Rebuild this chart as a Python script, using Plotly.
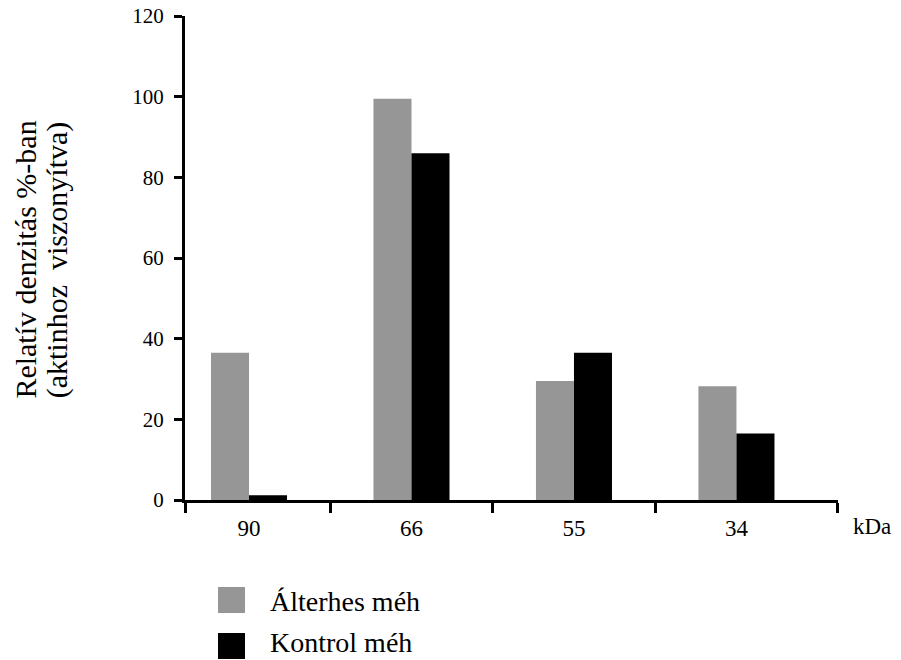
import plotly.graph_objects as go

categories = ["90", "66", "55", "34"]
series_names = ["Álterhes méh", "Kontrol méh"]
alterhes = [36.5, 99.5, 29.5, 28.2]
kontrol = [1.2, 86.0, 36.5, 16.5]
colors = ["#969696", "#000000"]
y_ticks = [0, 20, 40, 60, 80, 100, 120]
y_title_lines = ["Relatív denzitás %-ban", "(aktinhoz\u00a0 viszonyítva)"]
x_unit = "kDa"

xpos = list(range(len(categories)))
xr = [-0.394, 3.625]
boundaries = [xr[0] + 0.001, 0.5, 1.5, 2.5, xr[1] - 0.001]

SERIF = "Liberation Serif"

fig = go.Figure()
for name, vals, col in zip(series_names, [alterhes, kontrol], colors):
    fig.add_trace(go.Bar(x=xpos, y=vals, name=name, marker=dict(color=col, line=dict(width=0)),
                         showlegend=False))

fig.update_layout(
    width=893, height=652,
    margin=dict(l=177, r=63, t=8, b=160, autoexpand=False),
    paper_bgcolor="white", plot_bgcolor="white",
    barmode="group", bargap=0.532, bargroupgap=0,
    font=dict(family=SERIF, color="black"),
    xaxis=dict(
        range=xr, tickmode="array", tickvals=xpos, ticktext=categories,
        ticks="", showline=True, linecolor="black", linewidth=3,
        showgrid=False, zeroline=False, tickfont=dict(size=23, family=SERIF),
        ticklabelstandoff=5, automargin=False,
        minor=dict(tickmode="array", tickvals=boundaries, ticks="outside",
                   ticklen=10, tickwidth=3, tickcolor="black", showgrid=False),
    ),
    yaxis=dict(
        range=[0, 120], tickmode="array", tickvals=y_ticks,
        ticks="outside", ticklen=8, tickwidth=3, tickcolor="black",
        showline=True, linecolor="black", linewidth=3, automargin=False,
        ticklabeloverflow="allow",
        showgrid=False, zeroline=False, tickfont=dict(size=21, family=SERIF),
        ticklabelstandoff=6,
    ),
)

# y axis title (two tightly spaced lines)
for line, px in zip(y_title_lines, [-0.244, -0.1955]):
    fig.add_annotation(text=line, xref="paper", yref="paper", x=px, y=0.496, textangle=-90,
                       showarrow=False, xanchor="center", yanchor="middle",
                       font=dict(size=30, family=SERIF))

fig.add_annotation(text=x_unit, xref="paper", yref="paper", x=1.052, y=-0.054,
                   showarrow=False, font=dict(size=23, family=SERIF), xanchor="center", yanchor="middle")

# manual legend
sq_y = [(-0.1798, -0.2335), (-0.2748, -0.3285)]
txt_y = [-0.2107, -0.2934]
for name, col, (y1, y0), ty in zip(series_names, colors, sq_y, txt_y):
    fig.add_shape(type="rect", xref="paper", yref="paper", x0=0.0505, x1=0.0919, y0=y0, y1=y1,
                  fillcolor=col, line=dict(width=0))
    fig.add_annotation(text=name, xref="paper", yref="paper", x=0.1271, y=ty, showarrow=False,
                       xanchor="left", yanchor="middle", font=dict(size=28, family=SERIF))

fig.write_html("out.html")
